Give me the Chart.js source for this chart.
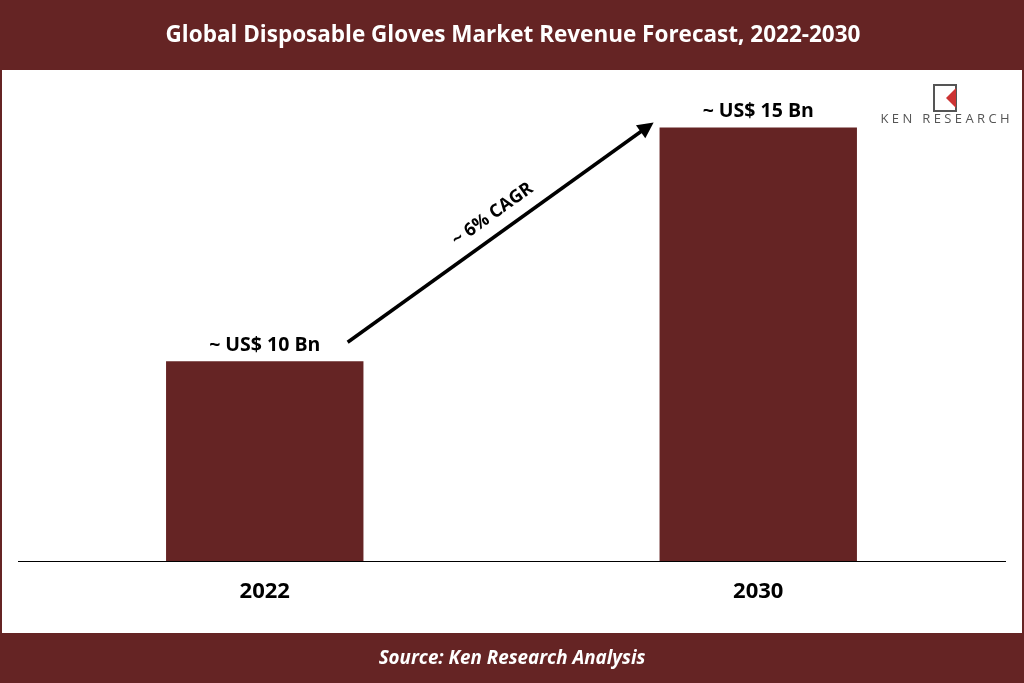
<!DOCTYPE html>
<html>
<head>
<meta charset="utf-8">
<script src="https://cdn.jsdelivr.net/npm/chart.js@4/dist/chart.umd.min.js"></script>
<style>
  html, body { margin: 0; padding: 0; background: #fff; }
  #wrap { width: 1024px; height: 683px; }
</style>
</head>
<body>
<div id="wrap"><canvas id="c" width="1024" height="683"></canvas></div>
<script>
const years = ['2022', '2030'];
const revenue = [10, 15];
const valueLabels = ['~ US$ 10 Bn', '~ US$ 15 Bn'];
const cagrLabel = '~ 6% CAGR';
const titleText = 'Global Disposable Gloves Market Revenue Forecast, 2022-2030';
const sourceText = 'Source: Ken Research Analysis';

const maroon = '#652424';
const font = "'Open Sans', sans-serif";

// header/footer bands, value labels, CAGR arrow, logo
const decor = {
    id: 'decor',
    beforeDraw(chart) {
        const { ctx, width, height } = chart;
        ctx.save();
        ctx.fillStyle = '#fff';
        ctx.fillRect(0, 0, width, height);
        ctx.fillStyle = maroon;
        ctx.fillRect(0, 0, width, 70);
        ctx.fillRect(0, 633, width, 50);
        ctx.fillRect(0, 70, 2, 563);
        ctx.fillRect(width - 2, 70, 2, 563);
        ctx.fillStyle = '#fff';
        ctx.textAlign = 'center';
        ctx.textBaseline = 'middle';
        ctx.font = `bold 22.5px ${font}`;
        ctx.fillText(titleText, width / 2 + 1, 36);
        ctx.font = `italic bold 18.8px ${font}`;
        ctx.fillText(sourceText, width / 2, 659);
        ctx.restore();
    },
    afterDatasetsDraw(chart) {
        const { ctx } = chart;
        const bars = chart.getDatasetMeta(0).data;
        ctx.save();
        ctx.fillStyle = '#000';
        ctx.textAlign = 'center';
        ctx.textBaseline = 'bottom';
        ctx.font = `bold 19.5px ${font}`;
        bars.forEach((b, i) => ctx.fillText(valueLabels[i], b.x, b.y - 6));

        // arrow between the two bar labels
        const a = bars[0], b = bars[1];
        const x0 = a.x + b.width * 0.42, y0 = a.y - 19;
        const x1 = b.x - b.width * 0.53, y1 = b.y - 5;
        const ang = Math.atan2(y1 - y0, x1 - x0);
        ctx.strokeStyle = '#000';
        ctx.lineWidth = 3.5;
        ctx.beginPath();
        ctx.moveTo(x0, y0);
        ctx.lineTo(x1 - 10 * Math.cos(ang), y1 - 10 * Math.sin(ang));
        ctx.stroke();
        ctx.beginPath();
        ctx.moveTo(x1, y1);
        ctx.lineTo(x1 - 16 * Math.cos(ang) + 8 * Math.sin(ang), y1 - 16 * Math.sin(ang) - 8 * Math.cos(ang));
        ctx.lineTo(x1 - 16 * Math.cos(ang) - 8 * Math.sin(ang), y1 - 16 * Math.sin(ang) + 8 * Math.cos(ang));
        ctx.closePath();
        ctx.fillStyle = '#000';
        ctx.fill();

        ctx.translate((x0 + x1) / 2 - 8, (y0 + y1) / 2 - 18);
        ctx.rotate(ang);
        ctx.textBaseline = 'middle';
        ctx.font = `bold 18px ${font}`;
        ctx.fillText(cagrLabel, 0, 0);
        ctx.restore();

        // logo
        ctx.save();
        ctx.strokeStyle = '#555';
        ctx.lineWidth = 2;
        ctx.strokeRect(934, 85, 22, 26);
        ctx.fillStyle = '#c33';
        ctx.beginPath();
        ctx.moveTo(946, 98); ctx.lineTo(956, 88); ctx.lineTo(956, 108); ctx.closePath();
        ctx.fill();
        ctx.fillStyle = '#555';
        ctx.font = `13px ${font}`;
        ctx.textAlign = 'center';
        ctx.textBaseline = 'middle';
        ctx.fillText('K E N   R E S E A R C H', 945, 119);
        ctx.restore();
    },
};

new Chart(document.getElementById('c'), {
    type: 'bar',
    data: {
        labels: years,
        datasets: [{
            data: revenue,
            backgroundColor: maroon,
            barPercentage: 0.4,
            categoryPercentage: 1,
        }],
    },
    options: {
        responsive: false,
        animation: false,
        layout: { padding: { left: 18, right: 19, top: 90, bottom: 50 } },
        plugins: { legend: { display: false }, tooltip: { enabled: false } },
        scales: {
            x: {
                grid: { display: false, drawTicks: false },
                border: { color: '#000', width: 1 },
                ticks: { color: '#000', font: { family: font, weight: 'bold', size: 22 }, padding: 18 },
                afterFit(scale) { scale.height = 72; },
            },
            y: {
                display: false,
                min: 5.73,
                max: 15.8,
            },
        },
    },
    plugins: [decor],
});
</script>
</body>
</html>
